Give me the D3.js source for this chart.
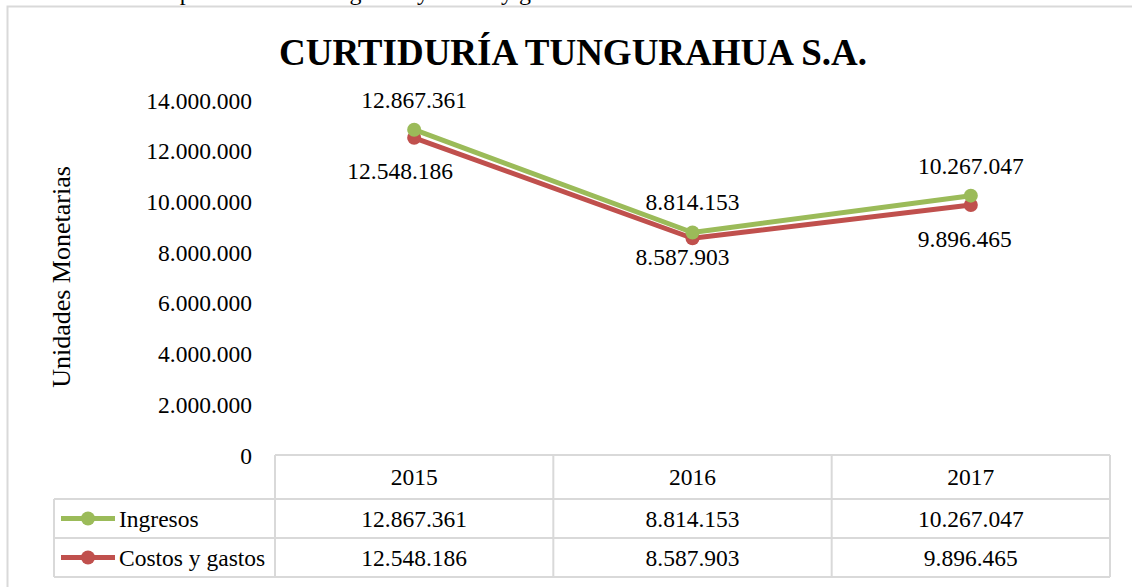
<!DOCTYPE html>
<html>
<head>
<meta charset="utf-8">
<script src="https://cdn.jsdelivr.net/npm/d3@7"></script>
<style>
  body { margin: 0; background: #fff; }
  text { font-family: "Liberation Serif", "Times New Roman", serif; fill: #000; }
</style>
</head>
<body>
<div class="chart"></div>
<script>
// data
const years = ['2015', '2016', '2017']
const ingresos = [12867361, 8814153, 10267047]
const costos = [12548186, 8587903, 9896465]
const seriesNames = ['Ingresos', 'Costos y gastos']
const yTicks = [0, 2000000, 4000000, 6000000, 8000000, 10000000, 12000000, 14000000]

// label nudges (layout only)
const ingLabelOff = [[0, -30], [0, -31], [0, -30]]
const cosLabelOff = [[-14, 33], [-10, 19], [-6, 34]]

const width = 1132
const height = 587
const colors = ['#9bbb59', '#c0504d']
const fs = 23.5

const es = d3.formatLocale({ decimal: ',', thousands: '.', grouping: [3], currency: ['$', ''] })
const fmt = es.format(',d')

const svg = d3.select('.chart')
  .append('svg')
  .attr('width', width)
  .attr('height', height)

// caption from the page above (only descenders visible)
svg.append('text')
  .attr('x', 133)
  .attr('y', 0)
  .style('font-size', '24px')
  .text('Comparación de los ingresos y costos y gastos')

// outer chart border
svg.append('rect')
  .attr('x', 7.5).attr('y', 6.5)
  .attr('width', 1140).attr('height', 600)
  .attr('fill', 'none')
  .attr('stroke', '#d9d9d9')
  .attr('stroke-width', 2)

svg.append('text')
  .attr('x', 573)
  .attr('y', 65)
  .attr('text-anchor', 'middle')
  .style('font-size', '37px')
  .style('font-weight', 'bold')
  .text('CURTIDURÍA TUNGURAHUA S.A.')

const x = d3.scaleBand().domain(years).range([275, 1110]).padding(0)
const y = d3.scaleLinear().domain([0, 14000000]).range([456, 101])
const cx = (d) => x(d) + x.bandwidth() / 2

// y axis
const yAxis = d3.axisLeft(y).tickValues(yTicks).tickFormat(fmt).tickSize(0).tickPadding(0)
const ga = svg.append('g').attr('transform', 'translate(252,0)').call(yAxis)
ga.select('.domain').remove()
ga.selectAll('text')
  .style('font-family', '"Liberation Serif", serif')
  .style('font-size', fs + 'px')
  .attr('fill', '#000')
  .attr('dy', '0.3em')

svg.append('text')
  .attr('transform', 'translate(70,277) rotate(-90)')
  .attr('text-anchor', 'middle')
  .style('font-size', '26px')
  .text('Unidades Monetarias')

// lines
const line = d3.line().x((d, i) => cx(years[i])).y((d) => y(d))
const series = [ingresos, costos]
series.slice().reverse().forEach((s, k) => {
  const i = series.length - 1 - k
  svg.append('path')
    .datum(s)
    .attr('d', line)
    .attr('fill', 'none')
    .attr('stroke', colors[i])
    .attr('stroke-width', 5)
    .attr('stroke-linejoin', 'round')
  svg.selectAll(null)
    .data(s)
    .join('circle')
    .attr('cx', (d, j) => cx(years[j]))
    .attr('cy', (d) => y(d))
    .attr('r', 7)
    .attr('fill', colors[i])
})

// data labels
const offs = [ingLabelOff, cosLabelOff]
series.forEach((s, i) => {
  svg.selectAll(null)
    .data(s)
    .join('text')
    .attr('x', (d, j) => cx(years[j]) + offs[i][j][0])
    .attr('y', (d, j) => y(d) + offs[i][j][1])
    .attr('dy', '0.35em')
    .attr('text-anchor', 'middle')
    .style('font-size', fs + 'px')
    .text((d) => fmt(d))
})

// data table
const rowY = [455, 499, 538, 577]
const tbl = svg.append('g').attr('stroke', '#d9d9d9').attr('stroke-width', 2).attr('fill', 'none')
tbl.append('line').attr('x1', 275).attr('x2', 1110).attr('y1', rowY[0]).attr('y2', rowY[0])
rowY.slice(1).forEach((ry) => {
  tbl.append('line').attr('x1', 54).attr('x2', 1110).attr('y1', ry).attr('y2', ry)
})
tbl.append('line').attr('x1', 54).attr('x2', 54).attr('y1', rowY[1]).attr('y2', rowY[3])
years.forEach((yr) => {
  tbl.append('line').attr('x1', x(yr)).attr('x2', x(yr)).attr('y1', rowY[0]).attr('y2', rowY[3])
})
tbl.append('line').attr('x1', 1110).attr('x2', 1110).attr('y1', rowY[0]).attr('y2', rowY[3])

svg.selectAll(null)
  .data(years)
  .join('text')
  .attr('x', (d) => cx(d))
  .attr('y', (rowY[0] + rowY[1]) / 2)
  .attr('dy', '0.35em')
  .attr('text-anchor', 'middle')
  .style('font-size', fs + 'px')
  .text((d) => d)

series.forEach((s, i) => {
  const my = (rowY[i + 1] + rowY[i + 2]) / 2
  svg.selectAll(null)
    .data(s)
    .join('text')
    .attr('x', (d, j) => cx(years[j]))
    .attr('y', my)
    .attr('dy', '0.35em')
    .attr('text-anchor', 'middle')
    .style('font-size', fs + 'px')
    .text((d) => fmt(d))
  // legend key
  svg.append('line')
    .attr('x1', 61).attr('x2', 115).attr('y1', my).attr('y2', my)
    .attr('stroke', colors[i]).attr('stroke-width', 5)
  svg.append('circle').attr('cx', 88).attr('cy', my).attr('r', 7).attr('fill', colors[i])
  svg.append('text')
    .attr('x', 119)
    .attr('y', my)
    .attr('dy', '0.35em')
    .style('font-size', fs + 'px')
    .text(seriesNames[i])
})
</script>
</body>
</html>
